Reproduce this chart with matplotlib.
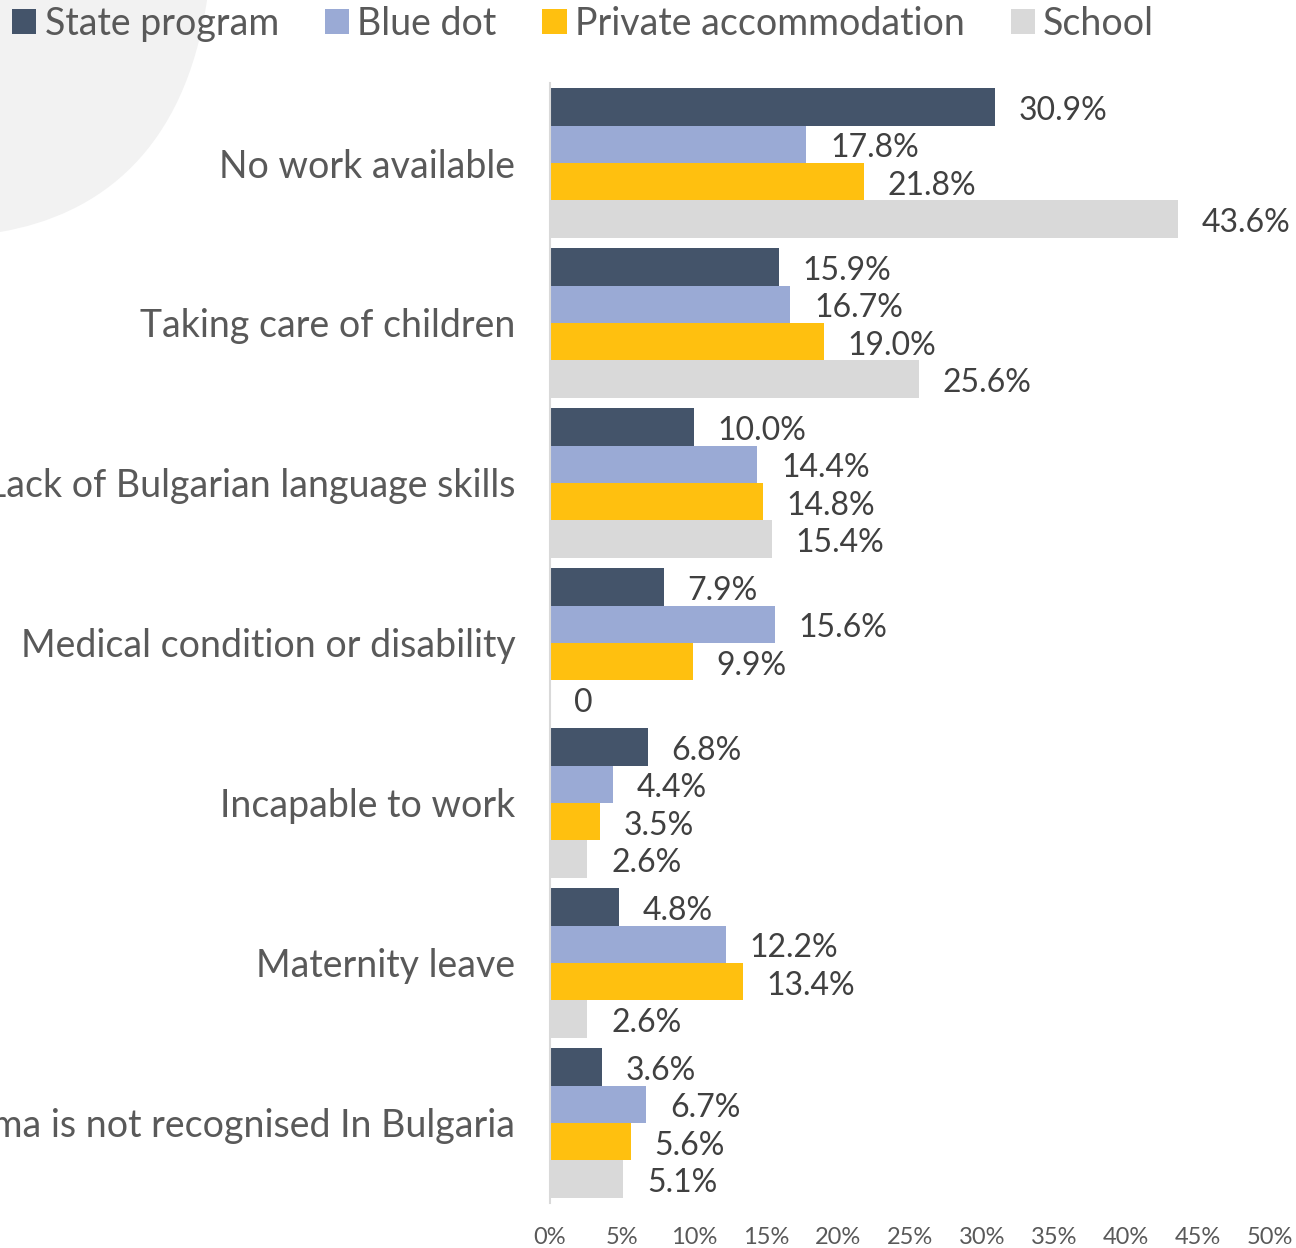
import matplotlib.pyplot as plt
from matplotlib.patches import Patch, PathPatch
from matplotlib.path import Path
import numpy as np

plt.rcParams['font.family'] = ['Lato', 'DejaVu Sans']

categories = ['No work available', 'Taking care of children',
              'Lack of Bulgarian language skills', 'Medical condition or disability',
              'Incapable to work', 'Maternity leave',
              'Diploma is not recognised In Bulgaria']
series = ['State program', 'Blue dot', 'Private accommodation', 'School']
state_program = [30.9, 15.9, 10.0, 7.9, 6.8, 4.8, 3.6]
blue_dot = [17.8, 16.7, 14.4, 15.6, 4.4, 12.2, 6.7]
private_acc = [21.8, 19.0, 14.8, 9.9, 3.5, 13.4, 5.6]
school = [43.6, 25.6, 15.4, 0, 2.6, 2.6, 5.1]
colors = ['#44546A', '#9AAAD5', '#FFC00F', '#D9D9D9']

W, H = 1296, 1248
fig = plt.figure(figsize=(W / 100, H / 100), dpi=100)

# decorative grey shape in the top-left corner
verts = [(0, 0), (207, 0), (185, 150), (100, 215), (0, 232), (0, 0)]
codes = [Path.MOVETO, Path.LINETO, Path.CURVE4, Path.CURVE4, Path.CURVE4, Path.CLOSEPOLY]
verts = [(x / W, 1 - y / H) for x, y in verts]
blob = PathPatch(Path(verts, codes), facecolor='#F2F2F2', edgecolor='none',
                 transform=fig.transFigure, zorder=0)
fig.patches.append(blob)

ax = fig.add_axes([550 / W, 1 - 1203 / H, 720 / W, 1120 / H])
ax.patch.set_alpha(0)

n = len(categories)
y = np.arange(n)
h = 0.234
data = [state_program, blue_dot, private_acc, school]
for i, vals in enumerate(data):
    pos = y - 1.5 * h + i * h
    bars = ax.barh(pos, vals, height=h, color=colors[i], label=series[i])
    labels = ['0' if v == 0 else f'{v:.1f}%' for v in vals]
    txts = ax.bar_label(bars, labels=labels, padding=17, fontsize=23, color='#404040')
    for t in txts:
        t.xyann = (17, -3)

ax.set_ylim(n - 0.5, -0.5)
ax.set_xlim(0, 50)
ax.set_xticks(np.arange(0, 51, 5))
ax.set_xticklabels([f'{t}%' for t in range(0, 51, 5)])
ax.set_yticks(y)
ax.set_yticklabels(categories)
ax.tick_params(axis='x', length=0, labelsize=17, labelcolor='#595959', pad=17)
ax.tick_params(axis='y', length=0, labelsize=27, labelcolor='#595959', pad=25)
for s in ['top', 'right', 'bottom']:
    ax.spines[s].set_visible(False)
ax.spines['left'].set_color('#D9D9D9')
ax.spines['left'].set_linewidth(1.5)

handles = [Patch(facecolor=c, edgecolor='none') for c in colors]
fig.legend(handles, series, loc='upper left', bbox_to_anchor=(12 / W, 1 - 6 / H),
           ncol=4, frameon=False, fontsize=27, labelcolor='#595959',
           handlelength=0.65, handleheight=0.65, handletextpad=0.22,
           columnspacing=1.22, borderpad=0, borderaxespad=0)

fig.savefig('out.png', dpi=100)
